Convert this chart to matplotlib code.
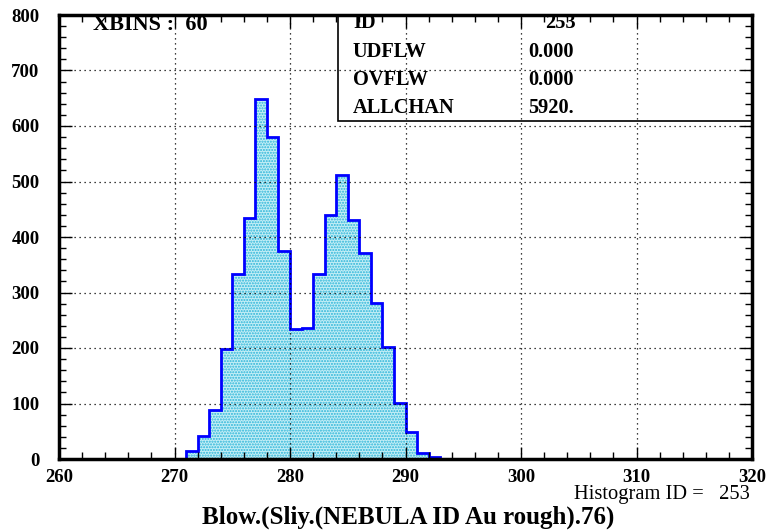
import numpy as np
import matplotlib.pyplot as plt
from matplotlib.ticker import MultipleLocator

plt.rcParams['font.family'] = ['Liberation Serif', 'DejaVu Serif']

# 60 bins from 260 to 320, counts
xlo, xhi, nbins = 260, 320, 60
first_bin = 271
counts = [15, 42, 88, 199, 333, 435, 648, 581, 375, 234, 236, 333,
          440, 512, 430, 372, 281, 202, 101, 49, 11, 3]
hist_id = 253
udflw = 0.0
ovflw = 0.0

edges = np.linspace(xlo, xhi, nbins + 1)
values = np.zeros(nbins)
i0 = first_bin - xlo
values[i0:i0 + len(counts)] = counts

fig = plt.figure(figsize=(7.71, 5.32), dpi=100)
ax = fig.add_axes([59/771, 1 - 459/532, (752-59)/771, (459-15)/532])

ax.stairs(values, edges, fill=True, facecolor='#c4eef6', edgecolor='#2ab4d8',
          hatch='......', linewidth=0)
ax.stairs(values, edges, color='#0000ff', linewidth=2, baseline=0)

ax.set_xlim(xlo, xhi)
ax.set_ylim(0, 800)
ax.xaxis.set_major_locator(MultipleLocator(10))
ax.xaxis.set_minor_locator(MultipleLocator(2))
ax.yaxis.set_major_locator(MultipleLocator(100))
ax.yaxis.set_minor_locator(MultipleLocator(20))
ax.tick_params(which='both', direction='in', top=True, right=True,
               labelsize=13.5, width=1)
ax.tick_params(which='major', length=9)
ax.tick_params(which='minor', length=5)
ax.tick_params(axis='x', pad=7)
ax.tick_params(axis='y', pad=14)
for lab in ax.get_xticklabels() + ax.get_yticklabels():
    lab.set_fontweight('bold')
for s in ax.spines.values():
    s.set_linewidth(2.5)
ax.grid(True, which='major', color='black', linestyle=(0, (1, 3)), linewidth=0.9)
ax.set_axisbelow(False)

# stats box
tr = ax.transAxes
bx0 = (338 - 59) / (752 - 59)
by0 = (459 - 121) / (459 - 15)
ax.add_patch(plt.Rectangle((bx0, by0), 1 - bx0, 1 - by0, transform=tr,
                           fill=False, edgecolor='black', linewidth=1.2))
rows = [('ID', str(hist_id)), ('UDFLW', '%.3f' % udflw),
        ('OVFLW', '%.3f' % ovflw), ('ALLCHAN', '%d.' % int(sum(counts)))]
ys = [23, 52, 80, 108]
for (k, v), yp in zip(rows, ys):
    fig.text(353/771, 1 - yp/532, k, fontsize=14.7, fontweight='bold', va='center')
    vx = 545 if k == 'ID' else 528
    fig.text(vx/771, 1 - yp/532, v, fontsize=14.7, fontweight='bold', va='center')

fig.text(93/771, 1 - 25/532, 'XBINS :  %d' % nbins, fontsize=16,
         fontweight='bold', va='center')
fig.text(750/771, 1 - 494/532, 'Histogram ID =   %d' % hist_id, fontsize=14.8,
         ha='right', va='center')
fig.text(408/771, 1 - 517/532, 'Blow.(Sliy.(NEBULA ID Au rough).76)',
         fontsize=18, fontweight='bold', ha='center', va='center')

fig.savefig('out.png', dpi=100)
